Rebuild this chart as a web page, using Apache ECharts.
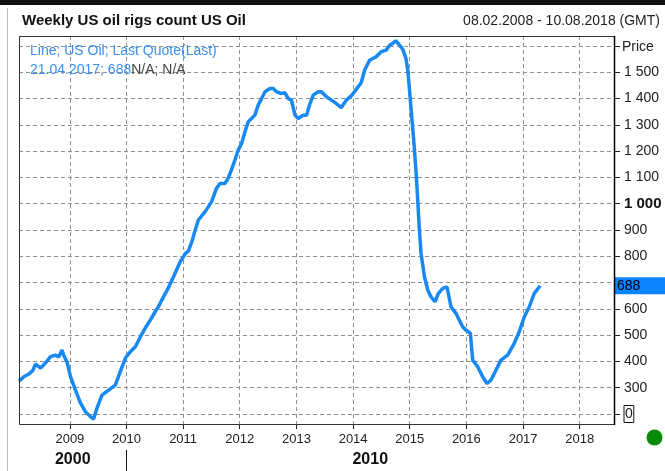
<!DOCTYPE html>
<html>
<head>
<meta charset="utf-8">
<script src="https://cdn.jsdelivr.net/npm/echarts@6/dist/echarts.min.js"></script>
<style>
html,body{margin:0;padding:0;background:#fff;}
#chart{width:665px;height:471px;}
</style>
</head>
<body>
<div id="chart"></div>
<script>
const dates = [
'2008-02-08','2008-03-10','2008-04-11','2008-05-07','2008-05-24','2008-06-26','2008-07-28','2008-08-29','2008-09-30','2008-10-21',
'2008-11-11','2008-11-22','2008-12-13','2009-01-05','2009-02-06','2009-03-10','2009-04-11','2009-05-13','2009-06-03','2009-06-25',
'2009-07-27','2009-09-08','2009-10-21','2009-11-22','2009-12-25','2010-01-26','2010-02-27','2010-04-01','2010-05-02','2010-06-03',
'2010-07-05','2010-07-26','2010-08-16','2010-09-28','2010-11-06','2010-12-14','2011-01-16','2011-02-04','2011-03-01','2011-03-20',
'2011-04-09','2011-05-22','2011-07-03','2011-08-04','2011-08-26','2011-09-27','2011-10-18','2011-11-08','2011-12-01','2011-12-22',
'2012-01-13','2012-02-04','2012-02-25','2012-03-17','2012-04-08','2012-04-29','2012-05-21','2012-06-12','2012-07-14','2012-08-04',
'2012-08-25','2012-09-27','2012-10-19','2012-11-09','2012-11-30','2012-12-22','2013-01-12','2013-02-13','2013-03-07','2013-03-29',
'2013-04-19','2013-05-21','2013-06-11','2013-07-13','2013-08-14','2013-09-15','2013-10-17','2013-11-18','2013-12-20','2014-01-21',
'2014-02-22','2014-03-16','2014-04-17','2014-05-30','2014-07-01','2014-08-02','2014-08-24','2014-09-14','2014-10-03','2014-10-27',
'2014-11-17','2014-12-08','2014-12-21','2015-01-10','2015-01-27','2015-02-11','2015-02-22','2015-03-03','2015-03-15','2015-04-06',
'2015-04-27','2015-05-18','2015-06-13','2015-07-05','2015-08-02','2015-08-29','2015-09-24','2015-10-26','2015-11-17','2015-12-08',
'2015-12-30','2016-01-27','2016-02-11','2016-03-14','2016-04-15','2016-05-13','2016-06-08','2016-07-10','2016-08-11','2016-09-23',
'2016-11-05','2016-12-07','2017-01-09','2017-02-10','2017-03-14','2017-04-21'
];
const rigs = [
325,342,352,365,390,375,394,418,424,417,
443,424,399,342,291,242,209,190,181,223,
272,291,310,361,413,437,456,494,527,557,
589,608,633,680,730,780,810,820,860,900,
938,969,1007,1058,1077,1077,1096,1128,1166,1204,
1229,1274,1312,1324,1337,1375,1400,1426,1438,1438,
1426,1419,1422,1400,1394,1337,1324,1337,1337,1381,
1413,1426,1426,1407,1394,1381,1366,1394,1410,1435,
1460,1508,1546,1559,1578,1584,1603,1610,1620,1603,
1588,1552,1500,1360,1240,1120,1010,912,811,722,
672,646,627,659,678,684,608,583,557,532,
519,507,405,380,342,316,329,367,405,424,
469,513,570,608,659,688
];
const xStart = '2008-02-08';
const xEnd = '2018-08-10';
const yTickMin = 200;
const yTickMax = 1600;
const yTickStep = 100;
const lastValue = 688;
const lastDate = '21.04.2017';

const chart = echarts.init(document.getElementById('chart'));
const FONT = 'Liberation Sans';
const lineColor = '#1888f2';
const gridDash = { color: '#8f8f8f', type: [4, 3], width: 1 };

// pixel geometry
const gTop = 36, gBottom = 424, gLeft = 19, gRight = 614;
const tTop = 46, tBottom = 414;
const pxPerUnit = (tBottom - tTop) / (yTickMax - yTickMin);
const dataMin = yTickMin - (gBottom - tBottom) / pxPerUnit;
const dataMax = yTickMax + (tTop - gTop) / pxPerUnit;

function fmtY(v) {
  if (v === yTickMin) return '{z|0}';
  if (v === 700 || v === yTickMax) return '';
  if (v === 1000) return '{b|1 000}';
  const s = String(v);
  return v >= 1000 ? s.slice(0, s.length - 3) + ' ' + s.slice(-3) : s;
}

const option = {
  animation: false,
  backgroundColor: '#fff',
  title: [
    { text: 'Weekly US oil rigs count US Oil', left: 17, top: 8,
      textStyle: { fontFamily: FONT, fontSize: 15, fontWeight: 'bold', color: '#111' } },
    { text: '08.02.2008 - 10.08.2018 (GMT)', right: 0, top: 9,
      textStyle: { fontFamily: FONT, fontSize: 14, fontWeight: 'normal', color: '#222' } },
    { text: '{a|Line; US Oil; Last Quote(Last)}\n{a|' + lastDate + '; ' + lastValue + '}{c|N/A; N/A}',
      left: 25, top: 37,
      textStyle: { fontWeight: 'normal', rich: {
        a: { fontFamily: FONT, fontSize: 14, fontWeight: 'normal', color: '#3a8ff0', lineHeight: 19 },
        c: { fontFamily: FONT, fontSize: 14, fontWeight: 'normal', color: '#444', lineHeight: 19 }
      } } }
  ],
  grid: [
    { left: gLeft, right: 665 - gRight, top: gTop, bottom: 471 - gBottom },
    { left: gLeft, right: 665 - gRight, top: tTop, bottom: 471 - tBottom }
  ],
  xAxis: [
    { type: 'time', gridIndex: 0, min: xStart, max: xEnd,
      minInterval: 365 * 24 * 3600 * 1000, maxInterval: 366 * 24 * 3600 * 1000,
      axisLine: { show: false },
      axisTick: { show: true, length: 5, lineStyle: { color: '#222' } },
      axisLabel: { show: true, margin: 9, fontFamily: FONT, fontSize: 13, color: '#222',
        showMinLabel: false, showMaxLabel: false,
        formatter: function (v) { return String(new Date(v).getFullYear()); } },
      splitLine: { show: true, lineStyle: gridDash } },
    { type: 'time', gridIndex: 1, min: xStart, max: xEnd, show: false }
  ],
  yAxis: [
    { type: 'value', gridIndex: 0, min: dataMin, max: dataMax, show: false, splitLine: { show: false } },
    { type: 'value', gridIndex: 1, position: 'right', min: yTickMin, max: yTickMax, interval: yTickStep,
      axisLine: { show: false },
      axisTick: { show: true, length: 6, lineStyle: { color: '#222' } },
      axisLabel: { show: true, margin: 10, fontFamily: FONT, fontSize: 14, color: '#222',
        formatter: fmtY,
        rich: {
          z: { fontFamily: FONT, fontSize: 14, color: '#222', borderColor: '#111', borderWidth: 1, padding: [2, 1, 1, 1] },
          b: { fontFamily: FONT, fontSize: 15, fontWeight: 'bold', color: '#111' }
        } },
      splitLine: { show: true, lineStyle: gridDash } }
  ],
  series: [{
    type: 'line',
    xAxisIndex: 0, yAxisIndex: 0,
    data: dates.map(function (d, i) { return [d, rigs[i]]; }),
    showSymbol: false,
    symbol: 'none',
    lineStyle: { color: lineColor, width: 3.5 },
    z: 5,
    markLine: {
      silent: true, symbol: 'none',
      lineStyle: { color: 'rgba(0,0,0,0)', width: 0 },
      data: [{ yAxis: lastValue }],
      label: { show: true, position: 'end', distance: 1, formatter: String(lastValue),
        fontFamily: FONT, fontSize: 14, color: '#000', backgroundColor: '#0b84ff',
        padding: [2, 30, 1, 2], lineHeight: 14 }
    }
  }],
  graphic: []
};
chart.setOption(option);

const pMin = chart.convertToPixel({ xAxisIndex: 0 }, new Date(xStart).getTime());
const p2010 = chart.convertToPixel({ xAxisIndex: 0 }, new Date('2010-01-01T00:00:00').getTime());
const pMax = chart.convertToPixel({ xAxisIndex: 0 }, new Date(xEnd).getTime());

chart.setOption({
  graphic: [
    { type: 'rect', shape: { x: 0, y: 0, width: 665, height: 5 }, style: { fill: '#111' }, silent: true },
    { type: 'line', shape: { x1: 7.5, y1: 8, x2: 7.5, y2: 471 }, style: { stroke: '#bbb', lineWidth: 1 }, silent: true },
    { type: 'rect', shape: { x: gLeft + 0.5, y: gTop + 0.5, width: gRight - gLeft, height: gBottom - gTop },
      style: { fill: null, stroke: '#333', lineWidth: 1 }, z: 10, silent: true },
    { type: 'line', shape: { x1: gRight + 0.5, y1: gTop, x2: gRight + 0.5, y2: gBottom + 1 },
      style: { stroke: '#000', lineWidth: 1.5 }, z: 11, silent: true },
    { type: 'text', left: 622, top: 40, style: { text: 'Price', fontFamily: FONT, fontSize: 14, fill: '#222' }, silent: true },
    { type: 'text', x: (pMin + p2010) / 2, y: 460, style: { text: '2000', fontFamily: FONT, fontSize: 16, fontWeight: 'bold',
      fill: '#111', align: 'center', verticalAlign: 'middle' }, silent: true },
    { type: 'line', shape: { x1: Math.round(p2010) + 0.5, y1: 450, x2: Math.round(p2010) + 0.5, y2: 471 },
      style: { stroke: '#111', lineWidth: 1 }, silent: true },
    { type: 'text', x: (p2010 + pMax) / 2, y: 460, style: { text: '2010', fontFamily: FONT, fontSize: 16, fontWeight: 'bold',
      fill: '#111', align: 'center', verticalAlign: 'middle' }, silent: true },
    { type: 'circle', shape: { cx: 654.5, cy: 437.5, r: 8 }, style: { fill: '#0a8a0a' }, silent: true }
  ]
});
</script>
</body>
</html>
